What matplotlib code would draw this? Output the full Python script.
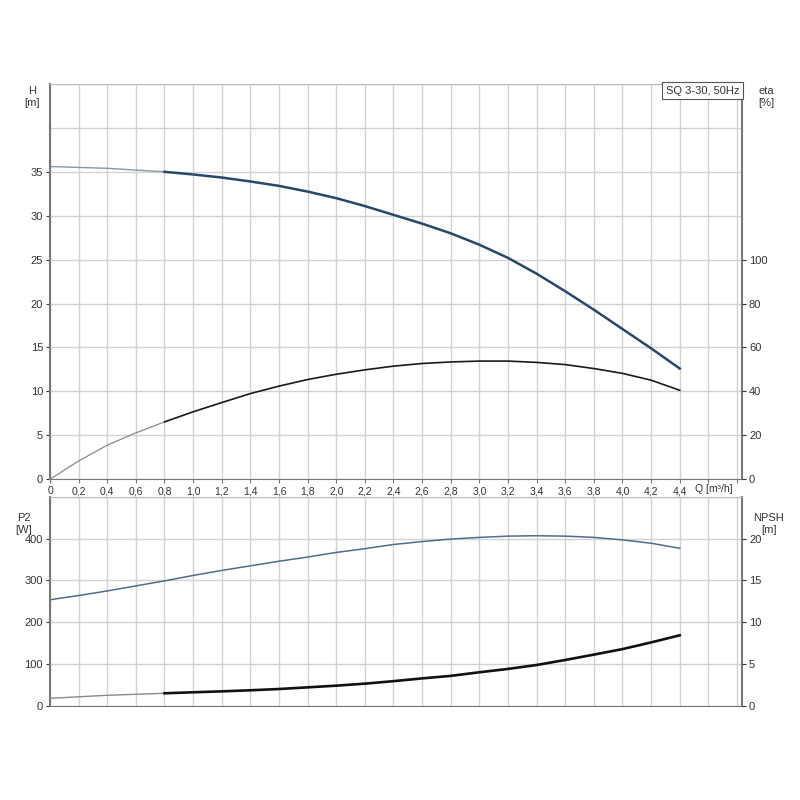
import matplotlib.pyplot as plt

plt.rcParams['font.family'] = ['Liberation Sans', 'DejaVu Sans']

# flow points Q [m3/h]
q = [0.0, 0.2, 0.4, 0.6, 0.8, 1.0, 1.2, 1.4, 1.6, 1.8, 2.0, 2.2,
     2.4, 2.6, 2.8, 3.0, 3.2, 3.4, 3.6, 3.8, 4.0, 4.2, 4.4]
head = [35.6, 35.5, 35.4, 35.2, 35.0, 34.7, 34.35, 33.9, 33.4, 32.75, 32.0, 31.1,
        30.1, 29.1, 28.0, 26.7, 25.2, 23.4, 21.4, 19.3, 17.1, 14.9, 12.6]
eta = [0.0, 8.3, 15.5, 21.1, 26.1, 30.7, 34.9, 39.0, 42.4, 45.4, 47.8, 49.8,
       51.5, 52.7, 53.4, 53.8, 53.8, 53.2, 52.2, 50.4, 48.2, 45.1, 40.5]
p2 = [254, 264, 275, 287, 299, 312, 324, 335, 346, 356, 367, 376,
      386, 393, 399, 403, 406, 407, 406, 403, 397, 389, 377]
npsh = [0.92, 1.1, 1.28, 1.4, 1.52, 1.64, 1.75, 1.88, 2.03, 2.23, 2.43, 2.67,
        2.97, 3.3, 3.6, 4.03, 4.43, 4.9, 5.5, 6.14, 6.8, 7.6, 8.45]

x_ticks = [0.0, 0.2, 0.4, 0.6, 0.8, 1.0, 1.2, 1.4, 1.6, 1.8, 2.0, 2.2, 2.4,
           2.6, 2.8, 3.0, 3.2, 3.4, 3.6, 3.8, 4.0, 4.2, 4.4, 4.6, 4.8]
x_labels = ['0', '0,2', '0,4', '0,6', '0,8', '1,0', '1,2', '1,4', '1,6', '1,8',
            '2,0', '2,2', '2,4', '2,6', '2,8', '3,0', '3,2', '3,4', '3,6', '3,8',
            '4,0', '4,2', '4,4', '', '']

split = 4  # index where the curves turn into the bold part
grid_c = '#d2d2d2'
spine_c = '#777777'
txt_c = '#333333'
fs = 8

fig = plt.figure(figsize=(8, 8), dpi=100)
ax1 = fig.add_axes([0.0625, 0.401, 0.865, 0.494])
ax2 = fig.add_axes([0.0625, 0.1175, 0.865, 0.2615])


def style(ax, ymax, ystep, ylab_max):
    ax.set_xlim(0, 4.835)
    ax.set_ylim(0, ymax)
    ax.set_xticks(x_ticks)
    n = int(round(ylab_max / ystep))
    ax.set_yticks([i * ystep for i in range(n + 1)])
    ax.set_yticks([i * ystep for i in range(n + 1, int(round(ymax / ystep)) + 1)], minor=True)
    ax.grid(True, which='both', color=grid_c, linewidth=1)
    ax.set_axisbelow(True)
    for s in ['left', 'right']:
        ax.spines[s].set_color(spine_c)
        ax.spines[s].set_linewidth(1.5)
    ax.spines['bottom'].set_color(spine_c)
    ax.spines['top'].set_color('#bbbbbb')
    ax.tick_params(axis='both', labelsize=fs, colors=txt_c, length=3,
                   width=0.8, pad=2)
    ax.tick_params(axis='x', labelsize=7.5)
    ax.tick_params(axis='both', which='minor', length=0)
    ax.tick_params(axis='x', color=spine_c)


style(ax1, 45, 5, 35)
ax1.set_xticklabels(x_labels)
style(ax2, 500, 100, 400)
ax2.set_xticklabels([])
ax2.tick_params(axis='x', length=0)

ax1.text(4.51, -0.012, 'Q [m³/h]', transform=ax1.get_xaxis_transform(),
         ha='left', va='top', fontsize=7.5, color=txt_c)

# top: head and efficiency
ax1.plot(q[:split + 1], head[:split + 1], color='#8a97a5', lw=1)
ax1.plot(q[split:], head[split:], color='#27486b', lw=1.8)
ax1r = ax1.twinx()
ax1r.set_ylim(0, 180)
ax1r.set_yticks([0, 20, 40, 60, 80, 100])
ax1r.tick_params(axis='y', labelsize=fs, colors=txt_c, length=3, width=0.8, pad=2)
for s in ax1r.spines.values():
    s.set_visible(False)
ax1r.plot(q[:split + 1], eta[:split + 1], color='#8a8a8a', lw=0.9)
ax1r.plot(q[split:], eta[split:], color='#1a1a1a', lw=1.2)

# bottom: power and NPSH
ax2.plot(q, p2, color='#4f6d8c', lw=1.1)
ax2r = ax2.twinx()
ax2r.set_ylim(0, 25)
ax2r.set_yticks([0, 5, 10, 15, 20])
ax2r.tick_params(axis='y', labelsize=fs, colors=txt_c, length=3, width=0.8, pad=2)
for s in ax2r.spines.values():
    s.set_visible(False)
ax2r.plot(q[:split + 1], npsh[:split + 1], color='#8a8a8a', lw=1)
ax2r.plot(q[split:], npsh[split:], color='#111111', lw=1.9)

# axis captions
fig.text(0.04, 0.879, 'H\n[m]', ha='center', va='center', fontsize=fs, color=txt_c)
fig.text(0.958, 0.879, 'eta\n[%]', ha='center', va='center', fontsize=fs, color=txt_c)
fig.text(0.03, 0.345, 'P2\n[W]', ha='center', va='center', fontsize=fs, color=txt_c)
fig.text(0.961, 0.345, 'NPSH\n[m]', ha='center', va='center', fontsize=fs, color=txt_c)

ax1.text(0.996, 0.996, 'SQ 3-30, 50Hz', transform=ax1.transAxes, ha='right', va='top',
         fontsize=fs, color=txt_c,
         bbox=dict(boxstyle='square,pad=0.3', fc='white', ec='#555555', lw=0.8))

fig.savefig('out.png', dpi=100)
